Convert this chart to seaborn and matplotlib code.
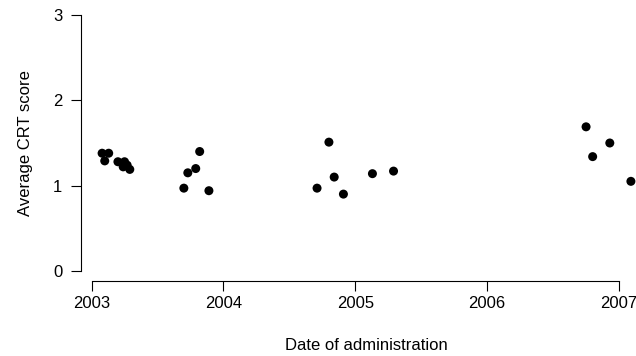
import matplotlib
matplotlib.use("Agg")
import matplotlib.pyplot as plt
import seaborn as sns
import pandas as pd

# Data (decimal year, average CRT score)
dates = [2003.08, 2003.13, 2003.10, 2003.20, 2003.25, 2003.24, 2003.27, 2003.29,
         2003.70, 2003.73, 2003.79, 2003.82, 2003.89,
         2004.71, 2004.80, 2004.84, 2004.91, 2005.13, 2005.29,
         2006.75, 2006.80, 2006.93, 2007.09]
scores = [1.38, 1.38, 1.29, 1.28, 1.28, 1.22, 1.24, 1.19,
          0.97, 1.15, 1.20, 1.40, 0.94,
          0.97, 1.51, 1.10, 0.90, 1.14, 1.17,
          1.69, 1.34, 1.50, 1.05]
x_ticks = [2003, 2004, 2005, 2006, 2007]
y_ticks = [0, 1, 2, 3]

df = pd.DataFrame({"date": dates, "score": scores})

sns.set_style("ticks")
plt.rcParams["font.family"] = ["Liberation Sans", "DejaVu Sans"]

W, H = 636, 356
# plot region in pixels; it runs past the right edge, as in the reference
left, right, bottom, top = 81, 652, 281, 5
fig = plt.figure(figsize=(W / 100, H / 100), dpi=100)
ax = fig.add_axes([left / W, (H - bottom) / H, (right - left) / W, (bottom - top) / H])

sns.scatterplot(data=df, x="date", y="score", ax=ax,
                color="black", s=42, edgecolor="none", linewidth=0, clip_on=False)

ax.set_xlim(2002.92, 2007.25)
ax.set_ylim(-0.12, 3.12)
ax.set_xticks(x_ticks)
ax.set_yticks(y_ticks)
ax.set_xticklabels([str(t) for t in x_ticks])
ax.set_yticklabels([str(t) for t in y_ticks])

for s in ["top", "right"]:
    ax.spines[s].set_visible(False)
ax.spines["bottom"].set_bounds(2003, 2007)
ax.spines["left"].set_bounds(0, 3)
for s in ["bottom", "left"]:
    ax.spines[s].set_color("black")
    ax.spines[s].set_linewidth(0.8)

ax.tick_params(axis="both", length=7, width=0.8, color="black",
               labelsize=12, labelcolor="black")
ax.tick_params(axis="x", pad=4)
ax.tick_params(axis="y", pad=6.5)

ax.set_xlabel("Date of administration", fontsize=12, color="black")
ax.set_ylabel("Average CRT score", fontsize=12, color="black")
ax.xaxis.set_label_coords(0.5, -0.207)
ax.yaxis.set_label_coords(-0.084, 0.5)

fig.savefig("out.png", dpi=100)
